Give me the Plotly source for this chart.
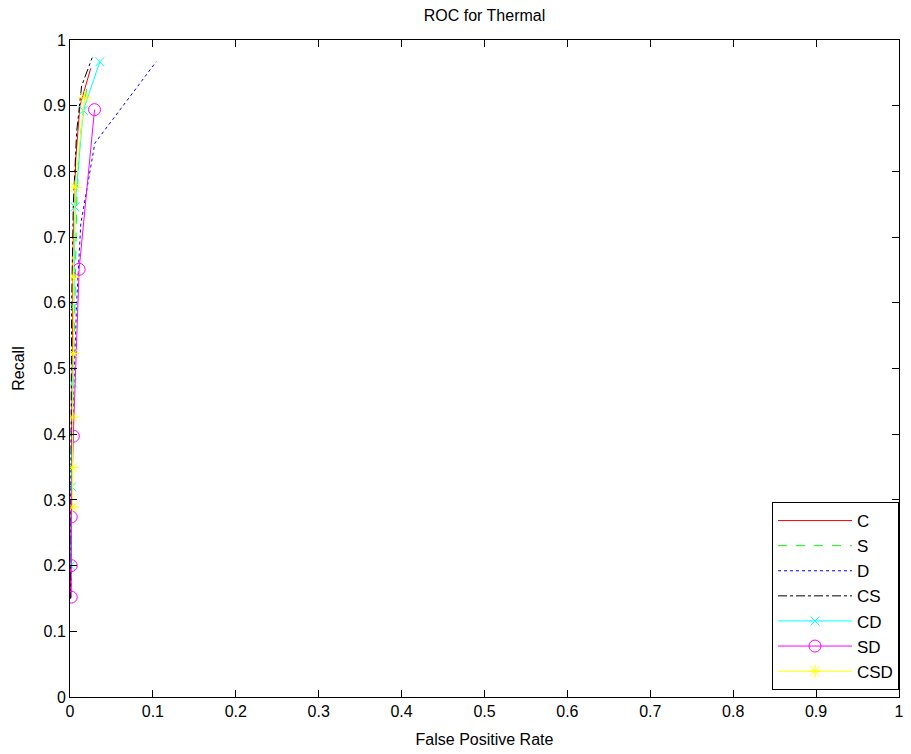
import plotly.graph_objects as go

# Data (False Positive Rate, Recall)
c_fpr = [0.0005, 0.001, 0.002, 0.003, 0.004, 0.007, 0.012, 0.025]
c_rec = [0.15, 0.28, 0.40, 0.55, 0.70, 0.82, 0.90, 0.957]

s_fpr = [0.001, 0.002, 0.004, 0.006, 0.008, 0.012, 0.021]
s_rec = [0.20, 0.35, 0.50, 0.60, 0.75, 0.85, 0.935]

d_fpr = [0.001, 0.002, 0.004, 0.008, 0.013, 0.030, 0.104]
d_rec = [0.15, 0.30, 0.45, 0.60, 0.72, 0.843, 0.967]

cs_fpr = [0.0005, 0.001, 0.0015, 0.002, 0.004, 0.008, 0.014, 0.0267]
cs_rec = [0.15, 0.30, 0.45, 0.60, 0.75, 0.86, 0.93, 0.973]

cd_fpr = [0.001, 0.002, 0.003, 0.004, 0.006, 0.016, 0.036]
cd_rec = [0.20, 0.32, 0.478, 0.594, 0.746, 0.893, 0.967]

sd_fpr = [0.0015, 0.0015, 0.0015, 0.004, 0.011, 0.0296]
sd_rec = [0.152, 0.200, 0.274, 0.397, 0.651, 0.894]

csd_fpr = [0.003, 0.003, 0.003, 0.004, 0.004, 0.006, 0.0176]
csd_rec = [0.289, 0.349, 0.426, 0.523, 0.639, 0.776, 0.912]

ticks = [0, 0.1, 0.2, 0.3, 0.4, 0.5, 0.6, 0.7, 0.8, 0.9, 1]
tick_text = ["0", "0.1", "0.2", "0.3", "0.4", "0.5", "0.6", "0.7", "0.8", "0.9", "1"]

FONT = "Liberation Sans, Arial, sans-serif"

fig = go.Figure()
fig.add_trace(go.Scatter(x=c_fpr, y=c_rec, name="C", mode="lines",
                         line=dict(color="#ff0000", width=1)))
fig.add_trace(go.Scatter(x=s_fpr, y=s_rec, name="S", mode="lines",
                         line=dict(color="#00ff00", width=1, dash="dash")))
fig.add_trace(go.Scatter(x=d_fpr, y=d_rec, name="D", mode="lines",
                         line=dict(color="#0000ff", width=1, dash="dot")))
fig.add_trace(go.Scatter(x=cs_fpr, y=cs_rec, name="CS", mode="lines",
                         line=dict(color="#000000", width=1, dash="dashdot")))
fig.add_trace(go.Scatter(x=cd_fpr, y=cd_rec, name="CD", mode="lines+markers",
                         line=dict(color="#00ffff", width=1),
                         marker=dict(symbol="x-thin-open", size=9,
                                     line=dict(color="#00ffff", width=1))))
fig.add_trace(go.Scatter(x=sd_fpr, y=sd_rec, name="SD", mode="lines+markers",
                         line=dict(color="#ff00ff", width=1),
                         marker=dict(symbol="circle-open", size=12,
                                     color="#ff00ff",
                                     line=dict(color="#ff00ff", width=1))))
fig.add_trace(go.Scatter(x=csd_fpr, y=csd_rec, name="CSD", mode="lines+markers",
                         line=dict(color="#ffff00", width=1),
                         marker=dict(symbol="asterisk-open", size=11,
                                     line=dict(color="#ffff00", width=1))))

axis_common = dict(
    range=[0, 1], tickvals=ticks, ticktext=tick_text,
    showgrid=False, zeroline=False, showline=True, linecolor="black",
    linewidth=1, mirror="ticks", ticks="inside", ticklen=7,
    tickcolor="black", tickfont=dict(family=FONT, size=16, color="black"),
)

fig.update_layout(
    width=911, height=754,
    margin=dict(l=70, r=7, t=40, b=57),
    paper_bgcolor="white", plot_bgcolor="white",
    title=dict(text="ROC for Thermal", x=0.5, xref="paper", y=1 - 15 / 754,
               yanchor="middle", font=dict(family=FONT, size=16, color="black")),
    xaxis=dict(**axis_common,
               title=dict(text="False Positive Rate", standoff=14,
                          font=dict(family=FONT, size=16, color="black"))),
    yaxis=dict(**axis_common,
               title=dict(text="Recall", standoff=14,
                          font=dict(family=FONT, size=16, color="black"))),
    legend=dict(x=1.0, y=(697 - 690) / 657, xanchor="right", yanchor="bottom",
                bgcolor="white", bordercolor="black", borderwidth=1,
                font=dict(family=FONT, size=17, color="black"),
                tracegroupgap=0, itemwidth=74),
    showlegend=True,
)

fig.write_html("out.html")
